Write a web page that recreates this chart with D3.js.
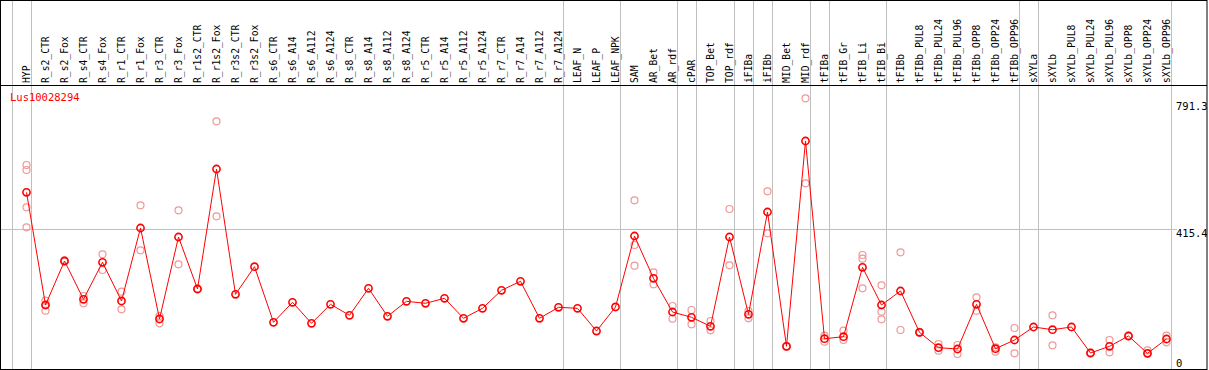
<!DOCTYPE html>
<html>
<head>
<meta charset="utf-8">
<script src="https://cdn.jsdelivr.net/npm/d3@7"></script>
<style>
  body { margin: 0; background: #fff; }
  svg { display: block; }
  text { font-family: 'DejaVu Sans Mono', monospace; }
</style>
</head>
<body>
<div id="chart"></div>
<script>
const geneName = 'Lus10028294';

const categories = [
  'HYP', 'R_s2_CTR', 'R_s2_Fox', 'R_s4_CTR', 'R_s4_Fox', 'R_r1_CTR', 'R_r1_Fox', 'R_r3_CTR', 'R_r3_Fox',
  'R_r1s2_CTR', 'R_r1s2_Fox', 'R_r3s2_CTR', 'R_r3s2_Fox', 'R_s6_CTR', 'R_s6_A14', 'R_s6_A112', 'R_s6_A124',
  'R_s8_CTR', 'R_s8_A14', 'R_s8_A112', 'R_s8_A124', 'R_r5_CTR', 'R_r5_A14', 'R_r5_A112', 'R_r5_A124',
  'R_r7_CTR', 'R_r7_A14', 'R_r7_A112', 'R_r7_A124', 'LEAF_N', 'LEAF_P', 'LEAF_NPK', 'SAM', 'AR_Bet', 'AR_rdf',
  'cPAR', 'TOP_Bet', 'TOP_rdf', 'iFIBa', 'iFIBb', 'MID_Bet', 'MID_rdf', 'tFIBa', 'tFIB_Gr', 'tFIB_Li', 'tFIB_Bi',
  'tFIBb', 'tFIBb_PUL8', 'tFIBb_PUL24', 'tFIBb_PUL96', 'tFIBb_OPP8', 'tFIBb_OPP24', 'tFIBb_OPP96', 'sXYLa',
  'sXYLb', 'sXYLb_PUL8', 'sXYLb_PUL24', 'sXYLb_PUL96', 'sXYLb_OPP8', 'sXYLb_OPP24', 'sXYLb_OPP96'
];

const meanValues = [
  520.2, 195.2, 322.1, 211.7, 318.4, 206.8, 417.3, 154.9, 391.3,
  241.4, 587.4, 226.1, 305.7, 145.3, 203.0, 142.5, 197.2,
  165.5, 243.4, 162.6, 205.9, 200.1, 214.5, 156.9, 185.7,
  237.6, 263.6, 156.9, 188.6, 185.7, 120.2, 189.5, 394.2, 272.2, 175.0,
  159.8, 133.8, 391.3, 168.4, 463.4, 76.1, 668.2, 98.0, 103.8, 303.9, 195.2,
  235.6, 116.5, 72.1, 68.3, 197.2, 69.2, 94.3, 131.8,
  124.0, 131.8, 56.8, 76.1, 105.8, 55.9, 97.2
];

const replicateValues = [
  [599.0, 584.5, 477.0, 419.3], [207.6, 195.0, 178.8], [324.0, 320.0], [221.2, 200.1], [341.4, 296.2],
  [233.6, 182.8], [482.7, 353.0], [163.5, 142.5], [468.3, 312.6],
  [242.5, 240.5], [725.0, 451.0], [], [], [], [], [], [],
  [], [], [], [], [], [], [], [],
  [], [], [], [], [], [], [], [497.2, 368.3, 308.6], [289.5, 254.9], [192.3, 155.7],
  [180.8, 139.6], [149.1, 122.3], [472.1, 309.7], [177.9, 156.9], [523.1, 402.0], [77.0, 75.0], [791.3, 546.2],
  [106.7, 89.4], [121.1, 94.3], [339.4, 328.7, 243.4], [252.0, 175.9, 154.0],
  [347.2, 123.1], [118.0, 115.0], [82.8, 63.4], [79.9, 53.9], [217.4, 178.8], [73.2, 60.6], [128.9, 55.9], [],
  [165.5, 79.0], [], [58.0, 55.5], [94.3, 58.8], [107.0, 104.5], [64.6, 55.0], [106.7, 87.7]
];

const groupEnds = [
  'HYP', 'R_r7_A124', 'LEAF_NPK', 'AR_rdf', 'cPAR', 'TOP_rdf', 'iFIBa', 'iFIBb',
  'MID_rdf', 'tFIBa', 'tFIB_Bi', 'tFIBb_OPP96', 'sXYLa', 'sXYLb_OPP96'
];

const yDomain = [39.5, 791.3];
const yTickValues = [791.3, 415.4, 39.5];
const yTickLabels = ['791.3', '415.4', '0'];

const width = 1209;
const height = 370;
const headerBottom = 85.5;
const plotBottom = 369.5;
const rightEdge = 1207;

const svg = d3.select('#chart').append('svg')
  .attr('width', width)
  .attr('height', height);

const xScale = d3.scalePoint().domain(categories).range([26.5, 1166.5]);
const step = xScale.step();
const yScale = d3.scaleLinear().domain(yDomain).range([359, 98.3]);

// group separators
const sepX = [xScale(categories[0]) - step + 4.5].concat(groupEnds.map(c => xScale(c) + 4.5));
svg.append('g').selectAll('line')
  .data(sepX)
  .enter()
  .append('line')
  .attr('x1', d => Math.round(d - 0.5) + 0.5)
  .attr('x2', d => Math.round(d - 0.5) + 0.5)
  .attr('y1', 0)
  .attr('y2', plotBottom)
  .attr('stroke', '#c0c0c0')
  .attr('stroke-width', 1);

// mid gridline
svg.append('line')
  .attr('x1', 1)
  .attr('x2', 1177)
  .attr('y1', Math.round(yScale(yTickValues[1])) + 0.5)
  .attr('y2', Math.round(yScale(yTickValues[1])) + 0.5)
  .attr('stroke', '#c0c0c0')
  .attr('stroke-width', 1);

// frame
svg.append('rect')
  .attr('x', 0.5)
  .attr('y', 0.5)
  .attr('width', rightEdge - 0.5)
  .attr('height', plotBottom - 0.5)
  .attr('fill', 'none')
  .attr('stroke', '#000')
  .attr('stroke-width', 1);

svg.append('line')
  .attr('x1', 0)
  .attr('x2', rightEdge)
  .attr('y1', headerBottom)
  .attr('y2', headerBottom)
  .attr('stroke', '#000')
  .attr('stroke-width', 1);

// column labels
svg.append('g').selectAll('text')
  .data(categories)
  .enter()
  .append('text')
  .attr('transform', d => `translate(${xScale(d) + 3.5},83) rotate(-90)`)
  .attr('text-anchor', 'start')
  .attr('font-size', '9.7px')
  .attr('fill', '#000')
  .text(d => d);

// y tick labels
const clip = svg.append('clipPath').attr('id', 'axclip')
  .append('rect').attr('x', 0).attr('y', 0).attr('width', rightEdge).attr('height', height);

svg.append('g').attr('clip-path', 'url(#axclip)')
  .selectAll('text')
  .data(yTickValues)
  .enter()
  .append('text')
  .attr('x', 1176)
  .attr('y', d => Math.max(yScale(d) + 8, 110))
  .attr('font-size', '10.5px')
  .attr('fill', '#000')
  .text((d, i) => yTickLabels[i]);

// gene name
svg.append('text')
  .attr('x', 10)
  .attr('y', 101)
  .attr('font-size', '10.5px')
  .attr('fill', '#ff0000')
  .text(geneName);

// replicates
const reps = [];
replicateValues.forEach((arr, i) => arr.forEach(v => reps.push({ cat: categories[i], value: v })));

svg.append('g').selectAll('circle')
  .data(reps)
  .enter()
  .append('circle')
  .attr('cx', d => xScale(d.cat))
  .attr('cy', d => yScale(d.value))
  .attr('r', 3.5)
  .attr('fill', 'none')
  .attr('stroke', '#f09898')
  .attr('stroke-width', 1.2);

// mean line
const meanData = categories.map((c, i) => ({ cat: c, value: meanValues[i] }));
const lineGenerator = d3.line()
  .x(d => xScale(d.cat))
  .y(d => yScale(d.value));

svg.append('path')
  .attr('d', lineGenerator(meanData))
  .attr('fill', 'none')
  .attr('stroke', '#ff0000')
  .attr('stroke-width', 1);

svg.append('g').selectAll('circle')
  .data(meanData)
  .enter()
  .append('circle')
  .attr('cx', d => xScale(d.cat))
  .attr('cy', d => yScale(d.value))
  .attr('r', 3.6)
  .attr('fill', 'none')
  .attr('stroke', '#ff0000')
  .attr('stroke-width', 1.6);
</script>
</body>
</html>
